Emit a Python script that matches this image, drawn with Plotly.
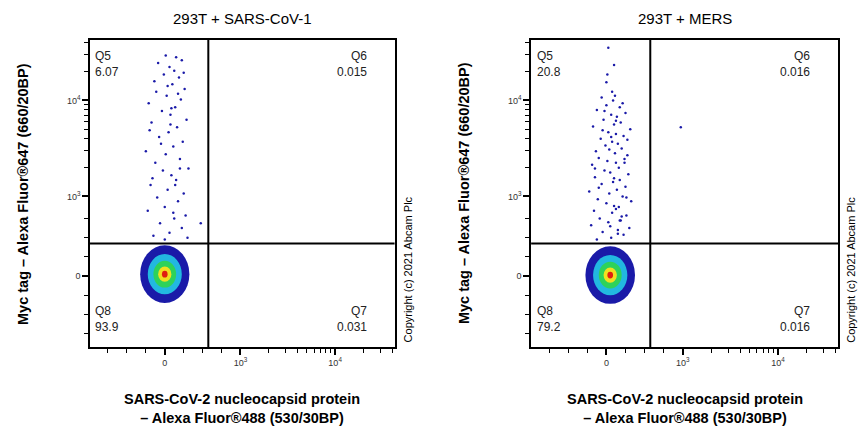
import math
import plotly.graph_objects as go

titles = ["293T + SARS-CoV-1", "293T + MERS"]
quad_names = ["Q5", "Q6", "Q8", "Q7"]
quad_values = [["6.07", "0.015", "93.9", "0.031"], ["20.8", "0.016", "79.2", "0.016"]]

# display (biexponential) positions of the axis labels
x_tick_pos = [0, 0.8, 1.8]
x_tick_txt = ["0", "10<sup>3</sup>", "10<sup>4</sup>"]
y_tick_pos = [0, 0.83, 1.83]
y_tick_txt = ["0", "10<sup>3</sup>", "10<sup>4</sup>"]
gate_x = 0.46
gate_y = 0.34

# positive (Myc tag) events, display units
left_x = [-0.12, 0.05, 0.18, -0.05, 0.1, 0.22, -0.18, 0.0, 0.14, -0.08, 0.2, 0.03, -0.15, 0.12, 0.07,
          -0.02, 0.25, -0.1, 0.16, 0.01, -0.2, 0.09, 0.19, -0.06, 0.04, 0.13, -0.14, 0.23, 0.06, -0.03,
          0.11, -0.17, 0.17, 0.02, -0.09, 0.21, 0.08, -0.11, 0.15, -0.01, 0.1, 0.05, -0.07, 0.18, 0.12,
          0.0, 0.24, -0.13, 0.06, 0.14, 0.38, 0.03, -0.04, 0.09, 0.16, -0.16, 0.2, 0.01, 0.07, 0.11]
left_y = [0.42, 0.45, 0.5, 0.55, 0.6, 0.63, 0.68, 0.72, 0.78, 0.82, 0.86, 0.9, 0.95, 1.0, 1.05,
          1.1, 1.12, 1.18, 1.22, 1.27, 1.3, 1.35, 1.4, 1.45, 1.5, 1.55, 1.6, 1.63, 1.68, 1.72,
          1.76, 1.8, 1.84, 1.88, 1.92, 1.95, 2.0, 2.03, 2.07, 2.1, 2.14, 2.18, 2.22, 2.25, 2.28,
          0.38, 0.4, 1.02, 1.58, 1.9, 0.55, 1.98, 1.38, 0.66, 1.12, 1.52, 2.12, 2.3, 1.75, 0.95]
right_x = [-0.1, 0.05, 0.18, -0.04, 0.12, 0.24, -0.16, 0.02, 0.15, -0.07, 0.21, 0.06, -0.13, 0.1, 0.08,
           0.0, 0.26, -0.09, 0.17, 0.03, -0.18, 0.11, 0.2, -0.05, 0.07, 0.14, -0.12, 0.23, 0.04, -0.02,
           0.13, -0.15, 0.19, 0.01, -0.08, 0.22, 0.09, -0.11, 0.16, -0.01, 0.12, 0.06, -0.06, 0.18, 0.1,
           0.02, 0.25, -0.14, 0.08, 0.15, -0.03, 0.11, 0.05, 0.2, -0.1, 0.14, 0.0, 0.17, 0.07, -0.05,
           0.09, 0.22, -0.12, 0.13, 0.04, 0.19, -0.08, 0.1, 0.03, 0.16, -0.04, 0.08, 0.21, -0.02, 0.12,
           0.06, 0.0, 0.14, 0.1, 0.05, 0.78, 0.02, 0.08, 0.01]
right_y = [0.38, 0.4, 0.43, 0.46, 0.48, 0.5, 0.53, 0.56, 0.58, 0.6, 0.63, 0.66, 0.68, 0.7, 0.73,
           0.76, 0.78, 0.8, 0.83, 0.86, 0.88, 0.9, 0.93, 0.96, 0.98, 1.0, 1.03, 1.06, 1.08, 1.1,
           1.13, 1.16, 1.18, 1.2, 1.23, 1.26, 1.28, 1.3, 1.33, 1.36, 1.38, 1.4, 1.43, 1.46, 1.48,
           1.5, 1.53, 1.56, 1.58, 1.6, 1.63, 1.66, 1.68, 1.7, 1.73, 1.76, 1.78, 1.8, 1.83, 1.86,
           1.88, 1.42, 1.12, 0.72, 0.52, 1.22, 0.92, 1.62, 1.32, 0.62, 1.52, 1.02, 0.82, 1.72, 0.44,
           1.92, 2.02, 0.58, 1.18, 1.45, 1.55, 2.38, 2.2, 2.1]

# density layers of the negative population: (rx, ry, colour)
dens_rx = [0.26, 0.18, 0.12, 0.07, 0.03]
dens_ry = [0.3, 0.21, 0.14, 0.08, 0.035]
dens_col = ["#1a1aa8", "#22b8e0", "#2ed25a", "#f0e020", "#e02010"]
centres = [(0.0, 0.02), (0.04, 0.01)]

xr = [-0.79, 2.43]
yr = [-0.74, 2.46]
doms = [[0.0947, 0.4466], [0.604, 0.9586]]
ydom = [0.217, 0.926]

fig = go.Figure()
shapes, annotations = [], []
pts = [(left_x, left_y), (right_x, right_y)]

x_minor = [-0.6, -0.4, -0.2, 0.2, 0.4, 0.6] + \
    [0.8 + math.log10(k) for k in range(2, 10)] + [1.8 + math.log10(k) for k in range(2, 5)]
y_minor = [-0.6, -0.4, -0.2, 0.2, 0.4, 0.6] + \
    [0.83 + math.log10(k) for k in range(2, 10)] + [1.83 + math.log10(k) for k in range(2, 5)]

for i in range(2):
    xa = "x" if i == 0 else "x2"
    ya = "y" if i == 0 else "y2"
    sfx = "" if i == 0 else "2"
    cx, cy = centres[i]
    for rx, ry, col in zip(dens_rx, dens_ry, dens_col):
        shapes.append(dict(type="circle", xref=xa, yref=ya, x0=cx - rx, x1=cx + rx,
                           y0=cy - ry, y1=cy + ry, fillcolor=col, line_width=0, layer="below"))
    px_, py_ = pts[i]
    fig.add_trace(go.Scatter(x=px_, y=py_, mode="markers", xaxis=xa, yaxis=ya,
                             marker=dict(size=2.5, color="#1a1aa8"), showlegend=False))
    # gates
    shapes.append(dict(type="line", xref=xa, yref=ya, x0=gate_x, x1=gate_x, y0=yr[0], y1=yr[1],
                       line=dict(color="black", width=2)))
    shapes.append(dict(type="line", xref=xa, yref=ya, x0=xr[0], x1=xr[1], y0=gate_y, y1=gate_y,
                       line=dict(color="black", width=2)))
    fig.update_layout(**{
        "xaxis" + sfx: dict(domain=doms[i], range=xr, showgrid=False, zeroline=False,
                            tickvals=x_tick_pos, ticktext=x_tick_txt, ticks="outside", ticklen=6,
                            tickwidth=1.5, tickcolor="black",
                            minor=dict(tickmode="array", tickvals=x_minor,
                                       ticks="outside", ticklen=4, tickwidth=1,
                                       tickcolor="black", showgrid=False),
                            showline=True, mirror=True, linecolor="black", linewidth=1.5,
                            tickfont=dict(size=9, color="#333"), anchor=ya),
        "yaxis" + sfx: dict(domain=ydom, range=yr, showgrid=False, zeroline=False,
                            tickvals=y_tick_pos, ticktext=y_tick_txt, ticks="outside", ticklen=6,
                            tickwidth=1.5, tickcolor="black",
                            minor=dict(tickmode="array", tickvals=y_minor,
                                       ticks="outside", ticklen=4, tickwidth=1,
                                       tickcolor="black", showgrid=False),
                            showline=True, mirror=True, linecolor="black", linewidth=1.5,
                            tickfont=dict(size=9, color="#333"), anchor=xa),
    })
    d0, d1 = doms[i]
    annotations.append(dict(text=titles[i], x=(d0 + d1) / 2, y=1.0, xref="paper", yref="paper",
                            xanchor="center", yanchor="top", showarrow=False, font=dict(size=15)))
    annotations.append(dict(text="<b>Myc tag – Alexa Fluor®647 (660/20BP)</b>", textangle=-90,
                            x=d0 - 0.078, xanchor="center", y=(ydom[0] + ydom[1]) / 2,
                            xref="paper", yref="paper", showarrow=False, font=dict(size=14.5)))
    annotations.append(dict(text="<b>SARS-CoV-2 nucleocapsid protein<br>– Alexa Fluor®488 (530/30BP)</b>",
                            x=(d0 + d1) / 2, xanchor="center", y=0.03, xref="paper", yref="paper",
                            yanchor="bottom", showarrow=False, font=dict(size=14.5)))
    annotations.append(dict(text="Copyright (c) 2021 Abcam Plc", textangle=-90, x=d1 + 0.024,
                            xanchor="right", y=ydom[0] + 0.005, yanchor="bottom",
                            xref="paper", yref="paper", showarrow=False, font=dict(size=11)))
    vals = quad_values[i]
    pos = [(d0 + 0.004, ydom[1] - 0.015, "left"), (d1 - 0.03, ydom[1] - 0.015, "right"),
           (d0 + 0.004, ydom[0] + 0.105, "left"), (d1 - 0.03, ydom[0] + 0.105, "right")]
    for (ax, ay, al), nm, v in zip(pos, quad_names, vals):
        annotations.append(dict(text=nm + "<br>" + v, x=ax, y=ay, xref="paper", yref="paper",
                                xanchor=al, yanchor="top", align=al, showarrow=False,
                                font=dict(size=12, color="#222")))

fig.update_layout(width=866, height=433, margin=dict(l=0, r=0, t=0, b=0),
                  plot_bgcolor="white", paper_bgcolor="white",
                  font=dict(family="Liberation Sans, Arial", color="black"),
                  shapes=shapes, annotations=annotations)
fig.write_html("out.html")
